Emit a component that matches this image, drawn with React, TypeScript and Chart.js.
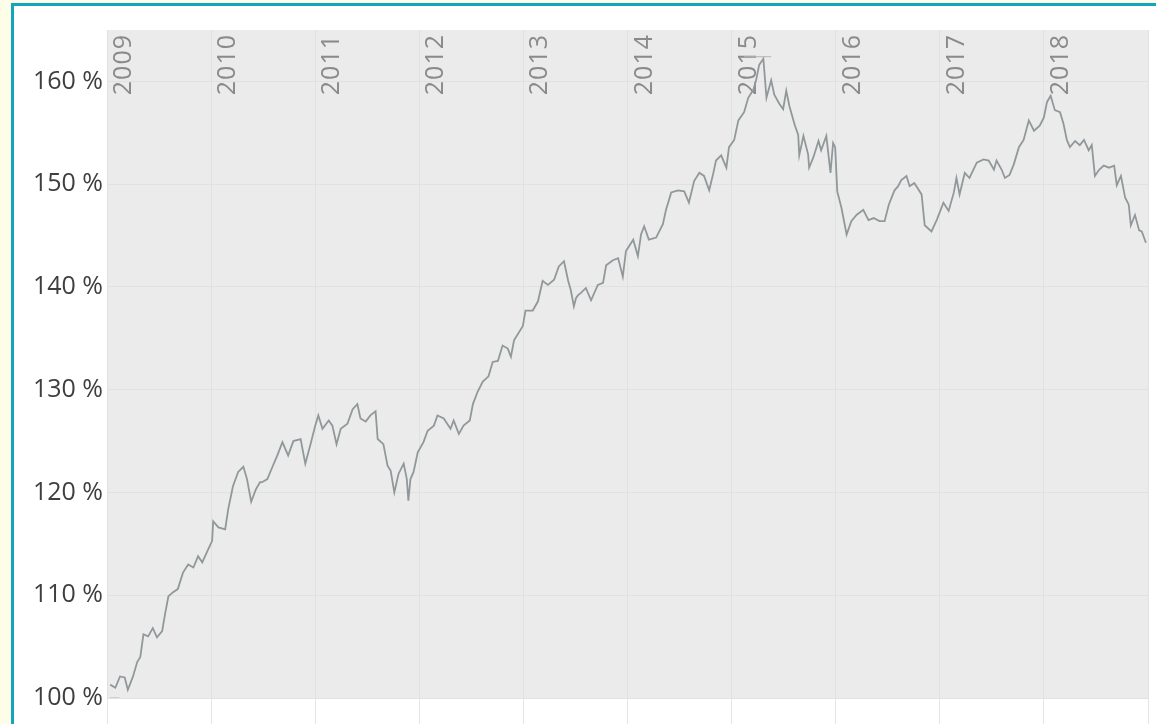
import React, { useEffect, useRef } from "react";
import { Chart, registerables } from "chart.js";

Chart.register(...registerables);

// Decimal year of each traced point
const dates = [
  2009.03, 2009.08, 2009.125, 2009.17, 2009.2, 2009.25, 2009.29, 2009.32, 2009.35, 2009.395,
  2009.44, 2009.48, 2009.53, 2009.56, 2009.59, 2009.635, 2009.68, 2009.73, 2009.78, 2009.83,
  2009.875, 2009.915, 2009.96, 2010.01, 2010.02, 2010.07, 2010.135, 2010.165, 2010.21, 2010.26,
  2010.31, 2010.345, 2010.385, 2010.43, 2010.47, 2010.49, 2010.54, 2010.59, 2010.64, 2010.685,
  2010.74, 2010.79, 2010.86, 2010.905, 2010.955, 2011.0, 2011.03, 2011.07, 2011.13, 2011.165,
  2011.205, 2011.245, 2011.31, 2011.36, 2011.405, 2011.435, 2011.485, 2011.53, 2011.58, 2011.6,
  2011.655, 2011.695, 2011.725, 2011.76, 2011.8, 2011.85, 2011.88, 2011.895, 2011.915, 2011.945,
  2011.985, 2012.04, 2012.08, 2012.14, 2012.175, 2012.235, 2012.3, 2012.33, 2012.38, 2012.425,
  2012.485, 2012.515, 2012.56, 2012.61, 2012.665, 2012.705, 2012.755, 2012.8, 2012.85, 2012.88,
  2012.91, 2012.995, 2013.02, 2013.09, 2013.14, 2013.185, 2013.235, 2013.295, 2013.34, 2013.39,
  2013.43, 2013.455, 2013.485, 2013.505, 2013.525, 2013.55, 2013.6, 2013.65, 2013.715, 2013.765,
  2013.795, 2013.86, 2013.91, 2013.955, 2013.985, 2014.055, 2014.1, 2014.13, 2014.16, 2014.205,
  2014.275, 2014.34, 2014.37, 2014.42, 2014.485, 2014.545, 2014.59, 2014.64, 2014.69, 2014.735,
  2014.785, 2014.825, 2014.85, 2014.9, 2014.95, 2014.975, 2015.025, 2015.065, 2015.12, 2015.16,
  2015.21, 2015.235, 2015.265, 2015.305, 2015.335, 2015.38, 2015.41, 2015.46, 2015.495, 2015.525,
  2015.555, 2015.605, 2015.64, 2015.65, 2015.69, 2015.735, 2015.745, 2015.785, 2015.835, 2015.86,
  2015.91, 2015.95, 2015.975, 2015.995, 2016.015, 2016.055, 2016.105, 2016.15, 2016.2, 2016.265,
  2016.315, 2016.365, 2016.42, 2016.47, 2016.51, 2016.565, 2016.6, 2016.63, 2016.68, 2016.71,
  2016.755, 2016.825, 2016.855, 2016.92, 2016.97, 2017.035, 2017.085, 2017.135, 2017.16, 2017.19,
  2017.24, 2017.285, 2017.355, 2017.42, 2017.47, 2017.52, 2017.545, 2017.595, 2017.625, 2017.67,
  2017.71, 2017.76, 2017.805, 2017.855, 2017.905, 2017.96, 2018.0, 2018.03, 2018.065, 2018.105,
  2018.155, 2018.19, 2018.22, 2018.25, 2018.3, 2018.345, 2018.385, 2018.43, 2018.46, 2018.49,
  2018.53, 2018.575, 2018.625, 2018.675, 2018.7, 2018.74, 2018.78, 2018.815, 2018.835, 2018.875,
  2018.915, 2018.94, 2018.98,
];

// Index value in percent
const values = [
  101.3, 101.0, 102.1, 102.0, 100.8, 102.1, 103.5, 104.0, 106.2, 106.0,
  106.8, 105.9, 106.5, 108.3, 109.9, 110.3, 110.6, 112.2, 113.0, 112.7,
  113.8, 113.2, 114.2, 115.3, 117.2, 116.6, 116.4, 118.4, 120.6, 122.0,
  122.5, 121.3, 119.1, 120.3, 121.0, 121.0, 121.3, 122.5, 123.7, 124.9,
  123.6, 125.0, 125.2, 122.8, 124.7, 126.5, 127.5, 126.2, 127.0, 126.5,
  124.7, 126.2, 126.7, 128.1, 128.6, 127.2, 126.9, 127.5, 127.9, 125.2,
  124.7, 122.6, 122.1, 120.0, 121.8, 122.8, 121.3, 119.2, 121.3, 122.0,
  123.9, 124.9, 126.0, 126.5, 127.5, 127.2, 126.2, 127.0, 125.7, 126.5,
  127.0, 128.6, 129.8, 130.8, 131.3, 132.7, 132.8, 134.3, 134.0, 133.2,
  134.8, 136.2, 137.7, 137.7, 138.6, 140.6, 140.2, 140.7, 142.0, 142.5,
  140.6, 139.7, 138.1, 138.9, 139.2, 139.4, 139.9, 138.7, 140.2, 140.4,
  142.1, 142.6, 142.8, 141.0, 143.5, 144.6, 143.0, 145.1, 145.9, 144.6,
  144.8, 146.1, 147.5, 149.2, 149.4, 149.3, 148.2, 150.3, 151.1, 150.8,
  149.4, 151.1, 152.3, 152.8, 151.6, 153.6, 154.3, 156.2, 157.0, 158.4,
  159.2, 160.1, 161.6, 162.2, 158.4, 160.1, 158.7, 157.8, 157.3, 159.1,
  157.6, 155.8, 154.8, 152.8, 154.7, 152.9, 151.6, 152.6, 154.2, 153.3,
  154.7, 151.1, 154.0, 153.6, 149.3, 147.7, 145.1, 146.4, 147.0, 147.5,
  146.5, 146.7, 146.4, 146.4, 148.0, 149.4, 149.8, 150.4, 150.8, 149.8,
  150.1, 149.0, 146.0, 145.4, 146.5, 148.2, 147.4, 149.2, 150.6, 149.0,
  151.1, 150.6, 152.1, 152.4, 152.3, 151.4, 152.3, 151.4, 150.6, 150.9,
  151.9, 153.6, 154.3, 156.2, 155.2, 155.7, 156.5, 158.0, 158.6, 157.2,
  157.0, 155.8, 154.3, 153.6, 154.2, 153.8, 154.3, 153.3, 153.8, 150.8,
  151.4, 151.8, 151.6, 151.8, 149.9, 150.8, 148.7, 148.0, 146.0, 147.0,
  145.5, 145.4, 144.3,
];

// Short reference dashes (start level and peak level)
const startMarkDates = [2009.03, 2009.12];
const startMarkValues = [100, 100];
const peakMarkDates = [2015.12, 2015.38];
const peakMarkValues = [162.4, 162.4];

const yMin = 100;
const yMax = 165;
const yStep = 10;
const xMin = 2009;
const xMax = 2019;

const FONT = "'Open Sans', 'Noto Sans', sans-serif";

const plotBackground = {
  id: "plotBackground",
  beforeDraw(chart: any) {
    const { ctx, chartArea } = chart;
    ctx.save();
    ctx.fillStyle = "#ebebeb";
    ctx.fillRect(chartArea.left, chartArea.top, chartArea.right - chartArea.left, chartArea.bottom - chartArea.top);
    ctx.restore();
  },
};

const yearLabels = {
  id: "yearLabels",
  beforeDatasetsDraw(chart: any) {
    const { ctx, chartArea, scales } = chart;
    const xs = scales.x;
    ctx.save();
    ctx.font = `25px ${FONT}`;
    ctx.fillStyle = "#8a8a8a";
    ctx.textAlign = "right";
    ctx.textBaseline = "alphabetic";
    try {
      (ctx as any).letterSpacing = "1px";
    } catch (e) {}
    xs.ticks.forEach((t: any) => {
      if (t.value >= xMax) return;
      const px = xs.getPixelForValue(t.value);
      ctx.save();
      ctx.translate(px + 24, chartArea.top + 4);
      ctx.rotate(-Math.PI / 2);
      ctx.fillText(String(t.value), 0, 0);
      ctx.restore();
    });
    ctx.restore();
  },
};

export default function App() {
  const canvasRef = useRef<HTMLCanvasElement | null>(null);

  useEffect(() => {
    if (!canvasRef.current) return;
    const lineData = dates.map((d, i) => ({ x: d, y: values[i] }));
    const startData = startMarkDates.map((d, i) => ({ x: d, y: startMarkValues[i] }));
    const peakData = peakMarkDates.map((d, i) => ({ x: d, y: peakMarkValues[i] }));

    const chart = new Chart(canvasRef.current, {
      type: "line",
      data: {
        datasets: [
          {
            label: "Index",
            data: lineData,
            borderColor: "#91989a",
            borderWidth: 1.8,
            pointRadius: 0,
            tension: 0,
          },
          {
            label: "Start",
            data: startData,
            borderColor: "#b4b4b4",
            borderWidth: 1,
            pointRadius: 0,
          },
          {
            label: "Peak",
            data: peakData,
            borderColor: "#b4b4b4",
            borderWidth: 1,
            pointRadius: 0,
          },
        ],
      },
      options: {
        animation: false,
        responsive: true,
        maintainAspectRatio: false,
        layout: { padding: { top: 24, right: 8, left: 0, bottom: 0 } },
        plugins: {
          legend: { display: false },
          tooltip: { enabled: false },
        },
        scales: {
          x: {
            type: "linear",
            position: "bottom",
            min: xMin,
            max: xMax,
            ticks: { stepSize: 1, display: false },
            grid: {
              color: "#e1e1e1",
              lineWidth: 1,
              drawTicks: true,
              tickLength: 26,
              tickColor: "#e6e6e6",
            },
            border: { display: false },
            afterFit(scale: any) {
              scale.height = 26;
            },
          },
          y: {
            type: "linear",
            min: yMin,
            max: yMax,
            ticks: {
              stepSize: yStep,
              padding: 4,
              color: "#3f3f3f",
              font: { family: FONT, size: 25 },
              callback: (v: any) => `${v} %`,
            },
            afterBuildTicks(scale: any) {
              scale.ticks = scale.ticks.filter((t: any) => t.value % yStep === 0);
            },
            grid: { color: "#e1e1e1", lineWidth: 1, drawTicks: false },
            border: { display: false },
            afterFit(scale: any) {
              scale.width = 93;
            },
          },
        },
      },
      plugins: [plotBackground, yearLabels],
    });
    return () => chart.destroy();
  }, []);

  return (
    <div style={{ position: "fixed", inset: 0, background: "#fdfde8", overflow: "hidden" }}>
      <div
        style={{
          position: "absolute",
          left: 11,
          top: 3,
          right: -20,
          bottom: -20,
          borderLeft: "3px solid #12a5bd",
          borderTop: "3px solid #12a5bd",
          background: "#ffffff",
        }}
      >
        <div style={{ position: "absolute", left: 0, top: 0, width: 1142, height: 718 }}>
          <canvas ref={canvasRef} />
        </div>
      </div>
    </div>
  );
}
